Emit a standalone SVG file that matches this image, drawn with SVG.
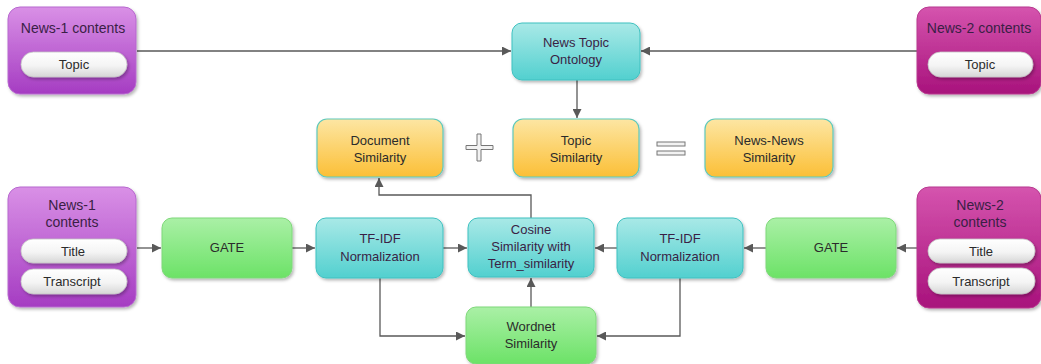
<svg xmlns="http://www.w3.org/2000/svg" width="1041" height="364" viewBox="0 0 1041 364">
  <defs>
    <linearGradient id="gPurple" x1="0" y1="0" x2="0" y2="1">
      <stop offset="0" stop-color="#d990e6"/>
      <stop offset="1" stop-color="#a53cc2"/>
    </linearGradient>
    <linearGradient id="gMagenta" x1="0" y1="0" x2="0" y2="1">
      <stop offset="0" stop-color="#d554ae"/>
      <stop offset="1" stop-color="#a8127c"/>
    </linearGradient>
    <linearGradient id="gTeal" x1="0" y1="0" x2="0" y2="1">
      <stop offset="0" stop-color="#a9e9e7"/>
      <stop offset="1" stop-color="#52d0cf"/>
    </linearGradient>
    <linearGradient id="gYellow" x1="0" y1="0" x2="0" y2="1">
      <stop offset="0" stop-color="#fde6a3"/>
      <stop offset="1" stop-color="#fbbf36"/>
    </linearGradient>
    <linearGradient id="gGreen" x1="0" y1="0" x2="0" y2="1">
      <stop offset="0" stop-color="#aaf0a6"/>
      <stop offset="1" stop-color="#6ce267"/>
    </linearGradient>
    <linearGradient id="gPill" x1="0" y1="0" x2="0" y2="1">
      <stop offset="0" stop-color="#ffffff"/>
      <stop offset="0.55" stop-color="#f4f4f4"/>
      <stop offset="1" stop-color="#d6d6d6"/>
    </linearGradient>
    <filter id="shadow" x="-10%" y="-10%" width="125%" height="130%">
      <feDropShadow dx="1.5" dy="2" stdDeviation="1.5" flood-color="#000" flood-opacity="0.28"/>
    </filter>
    <marker id="arrow" viewBox="0 0 10 10" refX="10" refY="5" markerWidth="9" markerHeight="9" markerUnits="userSpaceOnUse" orient="auto">
      <path d="M0,0 L10,5 L0,10 Z" fill="#595959"/>
    </marker>
    <style>
      .lbl { font-family: "Liberation Sans", Arial, sans-serif; font-size: 13px; fill: #2b2b2b; text-anchor: middle; }
      .dark { fill: #3a1f45; }
      .head { font-size: 14px; }
      .purple { fill: url(#gPurple); stroke: #b768cf; stroke-width: 1; filter: url(#shadow); }
      .magenta { fill: url(#gMagenta); stroke: #b8388f; stroke-width: 1; filter: url(#shadow); }
      .teal { fill: url(#gTeal); stroke: #3fc1c0; stroke-width: 1; filter: url(#shadow); }
      .yellow { fill: url(#gYellow); stroke: #5fc9bb; stroke-width: 1.2; filter: url(#shadow); }
      .green { fill: url(#gGreen); stroke: #7fd87a; stroke-width: 1; filter: url(#shadow); }
      .pill { fill: url(#gPill); stroke: #c4c4c4; stroke-width: 0.8; filter: url(#shadow); }
      .conn { fill: none; stroke: #595959; stroke-width: 1.3; }
      .sym { fill: #f2f2f2; stroke: #777; stroke-width: 1; }
    </style>
  </defs>

  <!-- connectors -->
  <g id="connectors">
    <line class="conn" x1="137" y1="51" x2="511" y2="51" marker-end="url(#arrow)"/>
    <line class="conn" x1="917" y1="51" x2="641" y2="51" marker-end="url(#arrow)"/>
    <line class="conn" x1="577" y1="80" x2="577" y2="118" marker-end="url(#arrow)"/>
    <polyline class="conn" points="531,218 531,195 379,195 379,178" marker-end="url(#arrow)"/>
    <line class="conn" x1="137" y1="248" x2="161" y2="248" marker-end="url(#arrow)"/>
    <line class="conn" x1="292" y1="248" x2="315" y2="248" marker-end="url(#arrow)"/>
    <line class="conn" x1="443" y1="248" x2="467" y2="248" marker-end="url(#arrow)"/>
    <line class="conn" x1="617" y1="248" x2="595" y2="248" marker-end="url(#arrow)"/>
    <line class="conn" x1="766" y1="248" x2="744" y2="248" marker-end="url(#arrow)"/>
    <line class="conn" x1="917" y1="248" x2="897" y2="248" marker-end="url(#arrow)"/>
    <line class="conn" x1="531" y1="307" x2="531" y2="278" marker-end="url(#arrow)"/>
    <polyline class="conn" points="380,278 380,336 465,336" marker-end="url(#arrow)"/>
    <polyline class="conn" points="680,278 680,336 597,336" marker-end="url(#arrow)"/>
  </g>

  <!-- News-1 topic source -->
  <g id="news1-topic">
    <rect class="purple" x="8" y="7" width="128" height="87" rx="12"/>
    <text class="lbl dark head" x="73" y="33">News-1 contents</text>
    <rect class="pill" x="21" y="52" width="106" height="25" rx="12.5"/>
    <text class="lbl" x="74" y="69">Topic</text>
  </g>

  <!-- News-2 topic source -->
  <g id="news2-topic">
    <rect class="magenta" x="917" y="7" width="124" height="87" rx="12"/>
    <text class="lbl dark head" x="979" y="33">News-2 contents</text>
    <rect class="pill" x="928" y="52" width="105" height="25" rx="12.5"/>
    <text class="lbl" x="980" y="69">Topic</text>
  </g>

  <!-- ontology -->
  <g id="ontology">
    <rect class="teal" x="512" y="23" width="128" height="57" rx="10"/>
    <text class="lbl dark" x="576" y="47">News Topic</text>
    <text class="lbl dark" x="576" y="64">Ontology</text>
  </g>

  <!-- similarity formula row -->
  <g id="doc-sim">
    <rect class="yellow" x="317" y="119" width="126" height="58" rx="10"/>
    <text class="lbl" x="380" y="145">Document</text>
    <text class="lbl" x="380" y="162">Similarity</text>
  </g>
  <g id="plus">
    <path class="sym" d="M477,134 H481 V145.5 H493 V149.5 H481 V161 H477 V149.5 H466 V145.5 H477 Z"/>
  </g>
  <g id="topic-sim">
    <rect class="yellow" x="513" y="119" width="126" height="58" rx="10"/>
    <text class="lbl" x="576" y="145">Topic</text>
    <text class="lbl" x="576" y="162">Similarity</text>
  </g>
  <g id="equals">
    <rect class="sym" x="657" y="142" width="28" height="4"/>
    <rect class="sym" x="657" y="151" width="28" height="4"/>
  </g>
  <g id="news-news-sim">
    <rect class="yellow" x="705" y="119" width="128" height="58" rx="10"/>
    <text class="lbl" x="769" y="145">News-News</text>
    <text class="lbl" x="769" y="162">Similarity</text>
  </g>

  <!-- News-1 text source -->
  <g id="news1-text">
    <rect class="purple" x="8" y="187" width="128" height="120" rx="12"/>
    <text class="lbl dark head" x="72" y="210">News-1</text>
    <text class="lbl dark head" x="72" y="227">contents</text>
    <rect class="pill" x="21" y="239" width="106" height="24" rx="12"/>
    <text class="lbl" x="73" y="256">Title</text>
    <rect class="pill" x="21" y="269" width="106" height="25" rx="12.5"/>
    <text class="lbl" x="72" y="286">Transcript</text>
  </g>

  <g id="gate1">
    <rect class="green" x="162" y="218" width="130" height="60" rx="10"/>
    <text class="lbl" x="227" y="252">GATE</text>
  </g>

  <g id="tfidf1">
    <rect class="teal" x="316" y="218" width="127" height="60" rx="10"/>
    <text class="lbl dark" x="380" y="243">TF-IDF</text>
    <text class="lbl dark" x="380" y="261">Normalization</text>
  </g>

  <g id="cosine">
    <rect class="teal" x="468" y="218" width="126" height="59" rx="10"/>
    <text class="lbl dark" x="531" y="234">Cosine</text>
    <text class="lbl dark" x="531" y="251">Similarity with</text>
    <text class="lbl dark" x="531" y="268">Term_similarity</text>
  </g>

  <g id="tfidf2">
    <rect class="teal" x="617" y="218" width="126" height="60" rx="10"/>
    <text class="lbl dark" x="680" y="243">TF-IDF</text>
    <text class="lbl dark" x="680" y="261">Normalization</text>
  </g>

  <g id="gate2">
    <rect class="green" x="766" y="218" width="130" height="60" rx="10"/>
    <text class="lbl" x="831" y="252">GATE</text>
  </g>

  <!-- News-2 text source -->
  <g id="news2-text">
    <rect class="magenta" x="917" y="187" width="124" height="121" rx="12"/>
    <text class="lbl dark head" x="980" y="210">News-2</text>
    <text class="lbl dark head" x="980" y="227">contents</text>
    <rect class="pill" x="928" y="239" width="107" height="24" rx="12"/>
    <text class="lbl" x="981" y="256">Title</text>
    <rect class="pill" x="928" y="268" width="107" height="26" rx="13"/>
    <text class="lbl" x="981" y="286">Transcript</text>
  </g>

  <g id="wordnet">
    <rect class="green" x="466" y="307" width="130" height="57" rx="10"/>
    <text class="lbl" x="531" y="331">Wordnet</text>
    <text class="lbl" x="531" y="348">Similarity</text>
  </g>
</svg>
